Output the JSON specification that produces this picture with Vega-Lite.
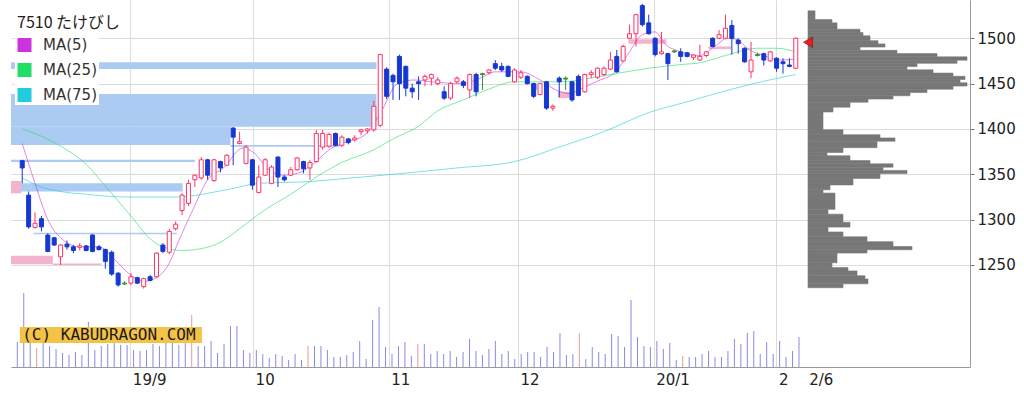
{
"$schema": "https://vega.github.io/schema/vega-lite/v6.json",
"width": 959, "height": 367,
"autosize": {"type": "none"},
"padding": {"left": 11, "top": 0, "right": 54, "bottom": 27},
"background": "white",
"title": {"text": "7510 たけびし", "anchor": "start", "frame": "group", "orient": "top", "offset": 0, "dy": 47, "dx": 6, "baseline": "bottom", "font": "Noto Sans CJK JP", "fontSize": 16, "fontWeight": "normal", "color": "#222222"},
"config": {"view": {"stroke": null}, "font": "DejaVu Sans"},
"datasets": {
"candles": [
{"i":0,"o":1365,"h":1366,"l":1340,"c":1357,"k":"d"},{"i":1,"o":1327,"h":1331,"l":1290,"c":1292,"k":"d"},{"i":2,"o":1291.5,"h":1308,"l":1290,"c":1296,"k":"u"},{"i":3,"o":1301,"h":1304,"l":1287,"c":1292,"k":"d"},{"i":4,"o":1283,"h":1285,"l":1264,"c":1265,"k":"d"},{"i":5,"o":1280,"h":1281,"l":1271,"c":1272,"k":"d"},{"i":6,"o":1259,"h":1273,"l":1250,"c":1272,"k":"u"},{"i":7,"o":1273,"h":1277,"l":1267,"c":1270,"k":"d"},{"i":8,"o":1270,"h":1272,"l":1263,"c":1266,"k":"d"},{"i":9,"o":1269.5,"h":1274,"l":1266,"c":1271,"k":"u"},
{"i":10,"o":1271,"h":1272,"l":1265,"c":1266,"k":"d"},{"i":11,"o":1283,"h":1284,"l":1264,"c":1265,"k":"d"},{"i":12,"o":1270,"h":1272,"l":1266,"c":1267,"k":"d"},{"i":13,"o":1267,"h":1268,"l":1246,"c":1254,"k":"d"},{"i":14,"o":1264,"h":1266,"l":1238,"c":1240,"k":"d"},{"i":15,"o":1241,"h":1242,"l":1226,"c":1228,"k":"d"},{"i":16,"o":1230,"h":1232,"l":1228,"c":1229,"k":"n"},{"i":17,"o":1230,"h":1241,"l":1228,"c":1237,"k":"u"},{"i":18,"o":1236,"h":1237,"l":1229,"c":1230,"k":"d"},{"i":19,"o":1226,"h":1236,"l":1224,"c":1235,"k":"u"},
{"i":20,"o":1237,"h":1239,"l":1232,"c":1233,"k":"d"},{"i":21,"o":1237,"h":1264,"l":1236,"c":1263,"k":"u"},{"i":22,"o":1272,"h":1274,"l":1263,"c":1265,"k":"d"},{"i":23,"o":1264,"h":1290,"l":1262,"c":1287,"k":"u"},{"i":24,"o":1290,"h":1298,"l":1288,"c":1295,"k":"u"},{"i":25,"o":1310,"h":1329,"l":1305,"c":1327,"k":"u"},{"i":26,"o":1318,"h":1344,"l":1315,"c":1340,"k":"u"},{"i":27,"o":1344,"h":1350,"l":1336,"c":1349,"k":"u"},{"i":28,"o":1346,"h":1369,"l":1344,"c":1366,"k":"u"},{"i":29,"o":1366,"h":1367,"l":1344,"c":1349,"k":"d"},
{"i":30,"o":1343,"h":1367,"l":1342,"c":1366,"k":"u"},{"i":31,"o":1364,"h":1365,"l":1352,"c":1357,"k":"d"},{"i":32,"o":1360,"h":1372,"l":1359,"c":1371,"k":"u"},{"i":33,"o":1401,"h":1402,"l":1360,"c":1391,"k":"d"},{"i":34,"o":1384,"h":1397,"l":1383,"c":1386,"k":"u"},{"i":35,"o":1362,"h":1382,"l":1361,"c":1380,"k":"u"},{"i":36,"o":1366,"h":1367,"l":1333,"c":1338,"k":"d"},{"i":37,"o":1330,"h":1360,"l":1329,"c":1347,"k":"u"},{"i":38,"o":1349,"h":1368,"l":1348,"c":1366,"k":"u"},{"i":39,"o":1340,"h":1360,"l":1339,"c":1358,"k":"u"},
{"i":40,"o":1369,"h":1370,"l":1336,"c":1347,"k":"d"},{"i":41,"o":1347,"h":1349,"l":1342,"c":1344,"k":"d"},{"i":42,"o":1349,"h":1358,"l":1348,"c":1355,"k":"u"},{"i":43,"o":1355,"h":1369,"l":1354,"c":1368,"k":"u"},{"i":44,"o":1364,"h":1365,"l":1351,"c":1356,"k":"d"},{"i":45,"o":1357,"h":1366,"l":1344,"c":1363,"k":"u"},{"i":46,"o":1364,"h":1399,"l":1363,"c":1395,"k":"u"},{"i":47,"o":1380,"h":1399,"l":1377,"c":1395,"k":"u"},{"i":48,"o":1381,"h":1396,"l":1379,"c":1394,"k":"u"},{"i":49,"o":1395,"h":1396,"l":1381,"c":1382,"k":"d"},
{"i":50,"o":1382,"h":1393,"l":1380,"c":1391,"k":"u"},{"i":51,"o":1389,"h":1390,"l":1383,"c":1385,"k":"d"},{"i":52,"o":1388,"h":1393,"l":1386,"c":1390,"k":"u"},{"i":53,"o":1397,"h":1400,"l":1393,"c":1399,"k":"u"},{"i":54,"o":1398,"h":1401,"l":1395,"c":1400,"k":"u"},{"i":55,"o":1399,"h":1431,"l":1397,"c":1425,"k":"u"},{"i":56,"o":1404,"h":1483,"l":1402,"c":1482,"k":"u"},{"i":57,"o":1466,"h":1468,"l":1433,"c":1436,"k":"d"},{"i":58,"o":1459,"h":1461,"l":1432,"c":1452,"k":"d"},{"i":59,"o":1480,"h":1482,"l":1432,"c":1450,"k":"d"},
{"i":60,"o":1469,"h":1470,"l":1436,"c":1445,"k":"d"},{"i":61,"o":1445,"h":1450,"l":1434,"c":1441,"k":"d"},{"i":62,"o":1452,"h":1458,"l":1432,"c":1450,"k":"d"},{"i":63,"o":1454,"h":1460,"l":1447,"c":1458,"k":"u"},{"i":64,"o":1456,"h":1461,"l":1448,"c":1460,"k":"u"},{"i":65,"o":1450,"h":1457,"l":1448,"c":1454,"k":"u"},{"i":66,"o":1441,"h":1447,"l":1432,"c":1434,"k":"d"},{"i":67,"o":1434,"h":1452,"l":1432,"c":1450,"k":"u"},{"i":68,"o":1452,"h":1458,"l":1450,"c":1456,"k":"u"},{"i":69,"o":1452,"h":1454,"l":1445,"c":1448,"k":"d"},
{"i":70,"o":1443,"h":1461,"l":1434,"c":1460,"k":"u"},{"i":71,"o":1460,"h":1462,"l":1436,"c":1441,"k":"d"},{"i":72,"o":1461,"h":1462,"l":1443,"c":1460,"k":"n"},{"i":73,"o":1462,"h":1466,"l":1460,"c":1465,"k":"u"},{"i":74,"o":1472,"h":1476,"l":1465,"c":1467,"k":"d"},{"i":75,"o":1469,"h":1473,"l":1463,"c":1465,"k":"d"},{"i":76,"o":1469,"h":1470,"l":1457,"c":1458,"k":"d"},{"i":77,"o":1452,"h":1467,"l":1451,"c":1465,"k":"u"},{"i":78,"o":1457,"h":1465,"l":1455,"c":1462,"k":"u"},{"i":79,"o":1458,"h":1459,"l":1449,"c":1450,"k":"d"},
{"i":80,"o":1450,"h":1451,"l":1434,"c":1436,"k":"d"},{"i":81,"o":1438,"h":1451,"l":1437,"c":1450,"k":"u"},{"i":82,"o":1452,"h":1453,"l":1421,"c":1423,"k":"d"},{"i":83,"o":1423,"h":1427,"l":1420,"c":1425,"k":"u"},{"i":84,"o":1456,"h":1458,"l":1435,"c":1452,"k":"d"},{"i":85,"o":1456,"h":1458,"l":1443,"c":1455,"k":"n"},{"i":86,"o":1452,"h":1453,"l":1430,"c":1432,"k":"d"},{"i":87,"o":1458,"h":1460,"l":1436,"c":1437,"k":"d"},{"i":88,"o":1441,"h":1461,"l":1440,"c":1460,"k":"u"},{"i":89,"o":1460,"h":1465,"l":1456,"c":1462,"k":"u"},
{"i":90,"o":1457,"h":1468,"l":1455,"c":1467,"k":"u"},{"i":91,"o":1460,"h":1469,"l":1458,"c":1467,"k":"u"},{"i":92,"o":1466,"h":1485,"l":1465,"c":1476,"k":"u"},{"i":93,"o":1480,"h":1487,"l":1462,"c":1463,"k":"d"},{"i":94,"o":1475,"h":1493,"l":1474,"c":1491,"k":"u"},{"i":95,"o":1500,"h":1515,"l":1499,"c":1505,"k":"u"},{"i":96,"o":1505,"h":1527,"l":1491,"c":1526,"k":"u"},{"i":97,"o":1536,"h":1538,"l":1513,"c":1515,"k":"d"},{"i":98,"o":1517,"h":1526,"l":1504,"c":1505,"k":"d"},{"i":99,"o":1500,"h":1501,"l":1480,"c":1482,"k":"d"},
{"i":100,"o":1483,"h":1507,"l":1482,"c":1485,"k":"u"},{"i":101,"o":1483,"h":1484,"l":1454,"c":1472,"k":"d"},{"i":102,"o":1486,"h":1487,"l":1484,"c":1485,"k":"n"},{"i":103,"o":1485,"h":1489,"l":1474,"c":1480,"k":"d"},{"i":104,"o":1484,"h":1485,"l":1479,"c":1480,"k":"d"},{"i":105,"o":1479,"h":1482,"l":1476,"c":1481.5,"k":"u"},{"i":106,"o":1476,"h":1493,"l":1475,"c":1480,"k":"u"},{"i":107,"o":1481,"h":1486,"l":1479,"c":1485,"k":"u"},{"i":108,"o":1500,"h":1501,"l":1490,"c":1491,"k":"d"},{"i":109,"o":1500,"h":1509,"l":1499,"c":1504,"k":"u"},
{"i":110,"o":1500,"h":1526,"l":1499,"c":1511,"k":"u"},{"i":111,"o":1514,"h":1520,"l":1482,"c":1500,"k":"d"},{"i":112,"o":1498,"h":1500,"l":1483,"c":1494,"k":"d"},{"i":113,"o":1489,"h":1490,"l":1473,"c":1474,"k":"d"},{"i":114,"o":1463,"h":1496,"l":1456,"c":1476,"k":"u"},{"i":115,"o":1482,"h":1484,"l":1480,"c":1481,"k":"n"},{"i":116,"o":1483,"h":1484,"l":1470,"c":1476,"k":"d"},{"i":117,"o":1475,"h":1486,"l":1474,"c":1485,"k":"u"},{"i":118,"o":1478,"h":1479,"l":1463,"c":1467,"k":"d"},{"i":119,"o":1474,"h":1478,"l":1461,"c":1472,"k":"d"},
{"i":120,"o":1470.5,"h":1478,"l":1468,"c":1469,"k":"d"},{"i":121,"o":1467,"h":1501,"l":1466,"c":1500,"k":"u"}
],
"vol": [
{"i":0,"v":25},{"i":1,"v":74},{"i":2,"v":24},{"i":3,"v":19,"r":1},{"i":4,"v":24},{"i":5,"v":21},{"i":6,"v":18},{"i":7,"v":14},{"i":8,"v":12},{"i":9,"v":15},
{"i":10,"v":12},{"i":11,"v":45},{"i":12,"v":17},{"i":13,"v":21},{"i":14,"v":23},{"i":15,"v":24},{"i":16,"v":22},{"i":17,"v":22},{"i":18,"v":17},{"i":19,"v":16},
{"i":20,"v":17},{"i":21,"v":23},{"i":22,"v":21},{"i":23,"v":24},{"i":24,"v":24},{"i":25,"v":22},{"i":26,"v":25},{"i":27,"v":52,"r":1},{"i":28,"v":21},{"i":29,"v":21},
{"i":30,"v":26},{"i":31,"v":14},{"i":32,"v":23},{"i":33,"v":41},{"i":34,"v":41},{"i":35,"v":17},{"i":36,"v":14},{"i":37,"v":17},{"i":38,"v":13},{"i":39,"v":9},
{"i":40,"v":13},{"i":41,"v":11},{"i":42,"v":7},{"i":43,"v":13},{"i":44,"v":7},{"i":45,"v":21,"r":1},{"i":46,"v":21},{"i":47,"v":21},{"i":48,"v":17},{"i":49,"v":10},
{"i":50,"v":10},{"i":51,"v":12},{"i":52,"v":15},{"i":53,"v":26},{"i":54,"v":8},{"i":55,"v":47},{"i":56,"v":60},{"i":57,"v":20},{"i":58,"v":13},{"i":59,"v":21},
{"i":60,"v":25},{"i":61,"v":11},{"i":62,"v":23,"r":1},{"i":63,"v":23},{"i":64,"v":13},{"i":65,"v":16},{"i":66,"v":13},{"i":67,"v":16},{"i":68,"v":10},{"i":69,"v":15},
{"i":70,"v":28},{"i":71,"v":16},{"i":72,"v":12},{"i":73,"v":18},{"i":74,"v":26},{"i":75,"v":13},{"i":76,"v":16},{"i":77,"v":8},{"i":78,"v":13},{"i":79,"v":15},
{"i":80,"v":15},{"i":81,"v":10},{"i":82,"v":20},{"i":83,"v":15},{"i":84,"v":34},{"i":85,"v":12},{"i":86,"v":13},{"i":87,"v":34,"r":1},{"i":88,"v":8},{"i":89,"v":20},
{"i":90,"v":15},{"i":91,"v":13},{"i":92,"v":33},{"i":93,"v":31},{"i":94,"v":20},{"i":95,"v":67},{"i":96,"v":30},{"i":97,"v":21},{"i":98,"v":20},{"i":99,"v":26},
{"i":100,"v":18},{"i":101,"v":24},{"i":102,"v":7},{"i":103,"v":11,"r":1},{"i":104,"v":10},{"i":105,"v":10},{"i":106,"v":13},{"i":107,"v":16},{"i":108,"v":10},{"i":109,"v":10},
{"i":110,"v":16},{"i":111,"v":28},{"i":112,"v":23},{"i":113,"v":34},{"i":114,"v":36},{"i":115,"v":13},{"i":116,"v":25},{"i":117,"v":13},{"i":118,"v":26},{"i":119,"v":10},
{"i":120,"v":16},{"i":121,"v":30}
],
"ma": [
{"m":"MA(5)","i":0,"v":1384},{"m":"MA(5)","i":2,"v":1340},{"m":"MA(5)","i":4,"v":1300},{"m":"MA(5)","i":6,"v":1280},{"m":"MA(5)","i":9,"v":1270},{"m":"MA(5)","i":12,"v":1270},{"m":"MA(5)","i":14.6,"v":1255},{"m":"MA(5)","i":16.6,"v":1241},{"m":"MA(5)","i":19,"v":1232},{"m":"MA(5)","i":21,"v":1236},{"m":"MA(5)","i":23,"v":1252},{"m":"MA(5)","i":24.5,"v":1277},{"m":"MA(5)","i":26.7,"v":1311},{"m":"MA(5)","i":29,"v":1344},{"m":"MA(5)","i":31.5,"v":1357},{"m":"MA(5)","i":34.5,"v":1379},{"m":"MA(5)","i":36,"v":1375},{"m":"MA(5)","i":38.6,"v":1355},{"m":"MA(5)","i":40.6,"v":1349},{"m":"MA(5)","i":43,"v":1351},{"m":"MA(5)","i":45.3,"v":1360},{"m":"MA(5)","i":48,"v":1377},{"m":"MA(5)","i":50,"v":1384},{"m":"MA(5)","i":53.5,"v":1393},{"m":"MA(5)","i":56,"v":1417},{"m":"MA(5)","i":58.7,"v":1450},{"m":"MA(5)","i":61.3,"v":1454},{"m":"MA(5)","i":64,"v":1452},{"m":"MA(5)","i":69,"v":1450},{"m":"MA(5)","i":71.6,"v":1456},{"m":"MA(5)","i":74,"v":1463},{"m":"MA(5)","i":78,"v":1463},{"m":"MA(5)","i":81,"v":1454},{"m":"MA(5)","i":83.5,"v":1443},{"m":"MA(5)","i":85.6,"v":1439},{"m":"MA(5)","i":87,"v":1443},{"m":"MA(5)","i":89.7,"v":1452},{"m":"MA(5)","i":92.8,"v":1463},{"m":"MA(5)","i":94.8,"v":1483},{"m":"MA(5)","i":97,"v":1504},{"m":"MA(5)","i":99,"v":1507},{"m":"MA(5)","i":100.5,"v":1494},{"m":"MA(5)","i":103,"v":1485},{"m":"MA(5)","i":106,"v":1481},{"m":"MA(5)","i":108.3,"v":1491},{"m":"MA(5)","i":110.3,"v":1500},{"m":"MA(5)","i":112,"v":1498},{"m":"MA(5)","i":113.4,"v":1489},{"m":"MA(5)","i":116,"v":1481},{"m":"MA(5)","i":118.6,"v":1476},{"m":"MA(5)","i":121,"v":1477},
{"m":"MA(25)","i":0,"v":1400},{"m":"MA(25)","i":3,"v":1392},{"m":"MA(25)","i":6,"v":1381},{"m":"MA(25)","i":10,"v":1361},{"m":"MA(25)","i":13,"v":1337},{"m":"MA(25)","i":17,"v":1304},{"m":"MA(25)","i":20,"v":1279},{"m":"MA(25)","i":22,"v":1270},{"m":"MA(25)","i":25,"v":1266},{"m":"MA(25)","i":28,"v":1268},{"m":"MA(25)","i":31,"v":1275},{"m":"MA(25)","i":34,"v":1290},{"m":"MA(25)","i":38,"v":1311},{"m":"MA(25)","i":42,"v":1328},{"m":"MA(25)","i":46,"v":1347},{"m":"MA(25)","i":50,"v":1363},{"m":"MA(25)","i":55,"v":1377},{"m":"MA(25)","i":58,"v":1389},{"m":"MA(25)","i":62,"v":1403},{"m":"MA(25)","i":65,"v":1420},{"m":"MA(25)","i":69,"v":1432},{"m":"MA(25)","i":73,"v":1444},{"m":"MA(25)","i":77,"v":1452},{"m":"MA(25)","i":84,"v":1452},{"m":"MA(25)","i":92,"v":1460},{"m":"MA(25)","i":98,"v":1467},{"m":"MA(25)","i":103,"v":1471},{"m":"MA(25)","i":106,"v":1473},{"m":"MA(25)","i":110,"v":1481},{"m":"MA(25)","i":115,"v":1489},{"m":"MA(25)","i":118,"v":1489},{"m":"MA(25)","i":121,"v":1485},
{"m":"MA(75)","i":0,"v":1346},{"m":"MA(75)","i":3,"v":1336},{"m":"MA(75)","i":6,"v":1331},{"m":"MA(75)","i":10,"v":1328},{"m":"MA(75)","i":16,"v":1325},{"m":"MA(75)","i":24,"v":1325},{"m":"MA(75)","i":32,"v":1333},{"m":"MA(75)","i":37,"v":1340},{"m":"MA(75)","i":45,"v":1342},{"m":"MA(75)","i":50,"v":1345},{"m":"MA(75)","i":58,"v":1350},{"m":"MA(75)","i":68,"v":1357},{"m":"MA(75)","i":77,"v":1364},{"m":"MA(75)","i":84,"v":1380},{"m":"MA(75)","i":91,"v":1397},{"m":"MA(75)","i":98,"v":1418},{"m":"MA(75)","i":104,"v":1430},{"m":"MA(75)","i":110,"v":1442},{"m":"MA(75)","i":115,"v":1451},{"m":"MA(75)","i":121,"v":1460}
],
"prof": [
{"lo":1525.7,"hi":1535.6,"v":7},{"lo":1522,"hi":1525.7,"v":24},{"lo":1514.7,"hi":1522,"v":29},{"lo":1511,"hi":1514.7,"v":52},{"lo":1507.3,"hi":1511,"v":55},{"lo":1501.8,"hi":1507.3,"v":62},{"lo":1498.1,"hi":1501.8,"v":70},{"lo":1494.5,"hi":1498.1,"v":77},{"lo":1490.8,"hi":1494.5,"v":52},{"lo":1487.1,"hi":1490.8,"v":89},
{"lo":1483.4,"hi":1487.1,"v":129},{"lo":1479.7,"hi":1483.4,"v":159},{"lo":1476.1,"hi":1479.7,"v":149},{"lo":1472.4,"hi":1476.1,"v":109},{"lo":1468.7,"hi":1472.4,"v":99},{"lo":1465,"hi":1468.7,"v":125},{"lo":1461.4,"hi":1465,"v":145},{"lo":1457.7,"hi":1461.4,"v":157},{"lo":1454,"hi":1457.7,"v":152},{"lo":1450.3,"hi":1454,"v":159},
{"lo":1446.7,"hi":1450.3,"v":145},{"lo":1443,"hi":1446.7,"v":119},{"lo":1439.3,"hi":1443,"v":102},{"lo":1435.6,"hi":1439.3,"v":85},{"lo":1432,"hi":1435.6,"v":60},{"lo":1426.4,"hi":1432,"v":42},{"lo":1420.9,"hi":1426.4,"v":25},{"lo":1400.7,"hi":1420.9,"v":15},{"lo":1395.2,"hi":1400.7,"v":35},{"lo":1391.5,"hi":1395.2,"v":72},
{"lo":1387.8,"hi":1391.5,"v":87},{"lo":1380.5,"hi":1387.8,"v":69},{"lo":1375,"hi":1380.5,"v":35},{"lo":1371.3,"hi":1375,"v":19},{"lo":1365.8,"hi":1371.3,"v":42},{"lo":1362.1,"hi":1365.8,"v":62},{"lo":1358.4,"hi":1362.1,"v":85},{"lo":1354.7,"hi":1358.4,"v":75},{"lo":1351.1,"hi":1354.7,"v":99},{"lo":1345.6,"hi":1351.1,"v":72},
{"lo":1338.2,"hi":1345.6,"v":45},{"lo":1332.7,"hi":1338.2,"v":22},{"lo":1329,"hi":1332.7,"v":15},{"lo":1310.6,"hi":1329,"v":27},{"lo":1305.1,"hi":1310.6,"v":20},{"lo":1295.9,"hi":1305.1,"v":35},{"lo":1290.4,"hi":1295.9,"v":42},{"lo":1284.9,"hi":1290.4,"v":20},{"lo":1279.4,"hi":1284.9,"v":35},{"lo":1273.9,"hi":1279.4,"v":59},
{"lo":1268.4,"hi":1273.9,"v":85},{"lo":1264.7,"hi":1268.4,"v":104},{"lo":1261,"hi":1264.7,"v":59},{"lo":1250,"hi":1261,"v":29},{"lo":1244.5,"hi":1250,"v":24},{"lo":1240.8,"hi":1244.5,"v":40},{"lo":1235.3,"hi":1240.8,"v":49},{"lo":1231.6,"hi":1235.3,"v":57},{"lo":1226.1,"hi":1231.6,"v":60},{"lo":1221.7,"hi":1226.1,"v":35}
],
"gaps": [
{"x1":-0.97,"x2":55.6,"lo":1466,"hi":1473.5,"t":"b"},
{"x1":-0.97,"x2":55.6,"lo":1402.5,"hi":1438.5,"t":"b"},
{"x1":-0.97,"x2":33,"lo":1382.3,"hi":1402.5,"t":"b"},
{"x1":33,"x2":50,"lo":1380.3,"hi":1382.3,"t":"b"},
{"x1":-0.97,"x2":27.5,"lo":1363.5,"hi":1366,"t":"b"},
{"x1":-0.97,"x2":25.6,"lo":1331,"hi":1340,"t":"b"},
{"x1":2.5,"x2":24.7,"lo":1284,"hi":1285.5,"t":"b"},
{"x1":79.5,"x2":80.5,"lo":1443,"hi":1450,"t":"b"},
{"x1":-0.97,"x2":0.6,"lo":1329,"hi":1342.6,"t":"p"},
{"x1":-0.97,"x2":5.5,"lo":1250.7,"hi":1260.2,"t":"p"},
{"x1":5.5,"x2":13,"lo":1250,"hi":1251.5,"t":"p"},
{"x1":94.6,"x2":100.5,"lo":1494,"hi":1499,"t":"p"},
{"x1":107,"x2":110.5,"lo":1488,"hi":1491,"t":"p"},
{"x1":83.7,"x2":86,"lo":1434,"hi":1441,"t":"p"}
]
},
"layer": [
{
"data": {"name": "gaps"},
"mark": {"type": "rect", "clip": true},
"encoding": {
"x": {"field": "x1", "type": "quantitative", "scale": {"domain": [-0.975, 147.47], "nice": false, "zero": false},
"axis": {"values": [17.5, 36.5, 57.5, 77.5, 98.5, 117.5, 122.2], "labelExpr": "datum.value == 17.5 ? '19/9' : datum.value == 36.5 ? '10' : datum.value == 57.5 ? '11' : datum.value == 77.5 ? '12' : datum.value == 98.5 ? '20/1' : datum.value == 117.5 ? '2' : '2/6'",
"grid": true, "gridColor": {"condition": {"test": "datum.value > 120", "value": "transparent"}, "value": "#dcdcdc"}, "ticks": false, "domainColor": "#999999", "labelAlign": "left", "labelOffset": 2, "labelBaseline": "top", "labelPadding": 5, "labelFontSize": 15, "labelColor": "#222222", "labelFont": "DejaVu Sans", "title": null, "labelFlush": false, "labelOverlap": false}},
"x2": {"field": "x2"},
"y": {"field": "lo", "type": "quantitative", "scale": {"domain": [1137.5, 1542.2], "nice": false, "zero": false},
"axis": {"orient": "right", "values": [1250, 1300, 1350, 1400, 1450, 1500], "format": "d", "grid": true, "gridColor": "#dcdcdc", "domainColor": "#999999", "tickColor": "#777777", "tickSize": 4, "labelPadding": 3, "labelFontSize": 15, "labelColor": "#222222", "labelFont": "DejaVu Sans", "title": null}},
"y2": {"field": "hi"},
"fill": {"condition": {"test": "datum.t == 'p'", "value": "#f4b3cd"}, "value": "#abcbf3"}
}
},
{
"data": {"name": "vol"},
"mark": {"type": "rule", "strokeWidth": 1},
"encoding": {
"x": {"field": "i", "type": "quantitative", "scale": {"domain": [-0.975, 147.47], "nice": false, "zero": false}, "axis": null},
"y": {"field": "v", "type": "quantitative", "scale": {"domain": [0, 367], "nice": false}, "axis": null},
"y2": {"datum": 0},
"stroke": {"condition": {"test": "datum.r == 1", "value": "#e39a9a"}, "value": "#8a8ae0"}
}
},
{
"layer": [
{
"data": {"name": "prof"},
"mark": {"type": "bar", "orient": "horizontal", "fill": "#777777", "stroke": "#777777", "strokeWidth": 0.6},
"encoding": {
"x": {"field": "v", "type": "quantitative", "scale": {"domain": [-797, 162], "nice": false, "zero": false}, "axis": null},
"y": {"field": "lo", "type": "quantitative", "scale": {"domain": [1137.5, 1542.2], "nice": false, "zero": false}, "axis": null},
"y2": {"field": "hi"}
}
},
{
"data": {"values": [{"v": 0, "p": 1500}]},
"mark": {"type": "point", "shape": "triangle-left", "filled": true, "fill": "#ee1c1c", "stroke": "#552222", "strokeWidth": 0.6, "size": 110, "opacity": 1},
"encoding": {
"x": {"field": "v", "type": "quantitative"},
"y": {"field": "p", "type": "quantitative"}
}
}
]
},
{
"layer": [
{
"data": {"name": "ma"},
"mark": {"type": "line", "strokeWidth": 1, "strokeOpacity": 0.6, "interpolate": "monotone"},
"encoding": {
"x": {"field": "i", "type": "quantitative", "scale": {"domain": [-0.975, 147.47], "nice": false, "zero": false}, "axis": null},
"y": {"field": "v", "type": "quantitative", "scale": {"domain": [1137.5, 1542.2], "nice": false, "zero": false}, "axis": null},
"color": {"field": "m", "type": "nominal", "scale": {"domain": ["MA(5)", "MA(25)", "MA(75)"], "range": ["#cc33dd", "#22dd66", "#22ccdd"]},
"legend": {"orient": "none", "legendX": 4, "legendY": 35, "title": null, "labelFont": "DejaVu Sans", "labelFontSize": 15, "labelColor": "#333333", "symbolType": "square", "symbolSize": 49, "symbolStrokeWidth": 7, "symbolOpacity": 1, "clipHeight": 16, "rowPadding": 9, "labelOffset": 11, "fillColor": "white", "padding": 2}}
}
},
{
"data": {"name": "candles"},
"mark": {"type": "rule", "strokeWidth": 1},
"encoding": {
"x": {"field": "i", "type": "quantitative"},
"y": {"field": "l", "type": "quantitative"},
"y2": {"field": "h"},
"stroke": {"condition": [{"test": "datum.k == 'u'", "value": "#ff3366"}, {"test": "datum.k == 'n'", "value": "#2d9a2d"}], "value": "#1538d0"}
}
},
{
"data": {"name": "candles"},
"mark": {"type": "bar", "orient": "vertical", "size": 4, "strokeWidth": 1},
"encoding": {
"x": {"field": "i", "type": "quantitative"},
"y": {"field": "o", "type": "quantitative"},
"y2": {"field": "c"},
"stroke": {"condition": [{"test": "datum.k == 'u'", "value": "#ff3366"}, {"test": "datum.k == 'n'", "value": "#2d9a2d"}], "value": "#1538d0"},
"fill": {"condition": [{"test": "datum.k == 'u'", "value": "#ffffff"}, {"test": "datum.k == 'n'", "value": "#2d9a2d"}], "value": "#1538d0"}
}
},
{
"data": {"values": [{"a": -0.36, "b": 28.1, "lo": 1163.9, "hi": 1181.5}]},
"mark": {"type": "rect", "fill": "#f4c245"},
"encoding": {
"x": {"field": "a", "type": "quantitative"},
"x2": {"field": "b"},
"y": {"field": "lo", "type": "quantitative"},
"y2": {"field": "hi"}
}
},
{
"data": {"values": [{"a": 0.0, "p": 1172.7, "txt": "(C) KABUDRAGON.COM"}]},
"mark": {"type": "text", "align": "left", "baseline": "middle", "font": "DejaVu Sans Mono", "fontSize": 16, "fill": "#1a1a1a"},
"encoding": {
"x": {"field": "a", "type": "quantitative"},
"y": {"field": "p", "type": "quantitative"},
"text": {"field": "txt"}
}
}
]
}
],
"resolve": {"scale": {"x": "independent", "y": "independent"}}
}
